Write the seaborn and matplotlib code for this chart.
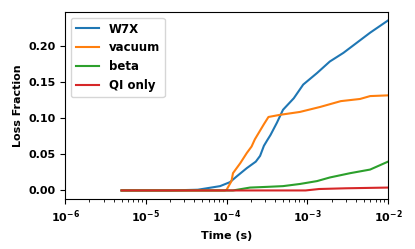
import numpy as np
import pandas as pd
import matplotlib
matplotlib.use("Agg")
import matplotlib.pyplot as plt
import seaborn as sns

# Loss fraction vs time
w7x_t = [5e-6, 2e-5, 4.4e-5, 8.3e-5, 1.1e-4, 1.35e-4, 1.78e-4, 2.3e-4, 2.6e-4, 2.9e-4,
         3.2e-4, 3.5e-4, 4.2e-4, 5.0e-4, 6.8e-4, 8.9e-4, 1.32e-3, 1.9e-3, 2.8e-3, 4.1e-3,
         6.0e-3, 1e-2]
w7x_v = [0.0, 0.0, 0.001, 0.006, 0.0115, 0.02, 0.031, 0.040, 0.048, 0.062, 0.070,
         0.077, 0.094, 0.112, 0.128, 0.147, 0.163, 0.179, 0.191, 0.205, 0.219, 0.236]

vac_t = [5e-6, 9.5e-5, 1.0e-4, 1.15e-4, 1.2e-4, 1.48e-4, 1.78e-4, 2.04e-4, 2.24e-4, 2.9e-4,
         3.3e-4, 4.6e-4, 8.1e-4, 1.45e-3, 2.6e-3, 4.5e-3, 6.0e-3, 1e-2]
vac_v = [0.0, 0.0, 0.001, 0.013, 0.024, 0.038, 0.052, 0.061, 0.071, 0.092, 0.102,
         0.105, 0.109, 0.116, 0.124, 0.127, 0.131, 0.132]

beta_t = [5e-6, 1.2e-4, 1.95e-4, 3.2e-4, 5.0e-4, 8.1e-4, 1.32e-3, 1.9e-3, 3.4e-3, 6.0e-3, 1e-2]
beta_v = [0.0, 0.0, 0.004, 0.005, 0.006, 0.009, 0.013, 0.018, 0.024, 0.029, 0.040]

qi_t = [5e-6, 9.5e-4, 1.4e-3, 3e-3, 1e-2]
qi_v = [0.0, 0.0, 0.002, 0.003, 0.004]

series = ["W7X", "vacuum", "beta", "QI only"]

df = pd.concat([
    pd.DataFrame({"Time": w7x_t, "Loss": w7x_v, "case": "W7X"}),
    pd.DataFrame({"Time": vac_t, "Loss": vac_v, "case": "vacuum"}),
    pd.DataFrame({"Time": beta_t, "Loss": beta_v, "case": "beta"}),
    pd.DataFrame({"Time": qi_t, "Loss": qi_v, "case": "QI only"}),
])

plt.rcParams["font.weight"] = "bold"
plt.rcParams["axes.labelweight"] = "bold"
plt.rcParams["font.size"] = 8

fig, ax = plt.subplots(figsize=(4.15, 2.49), dpi=100)
fig.subplots_adjust(left=0.157, right=0.935, top=0.952, bottom=0.201)

sns.lineplot(data=df, x="Time", y="Loss", hue="case", hue_order=series,
             palette=sns.color_palette("tab10", 4), ax=ax, linewidth=1.5)

ax.set_xscale("log")
ax.set_xlim(1e-6, 1e-2)
ax.set_xlabel("Time (s)")
ax.set_ylabel("Loss Fraction")
ax.set_yticks([0.0, 0.05, 0.10, 0.15, 0.20])
ax.legend(title=None, loc="upper left", fontsize=8.5)

fig.savefig("out.png", dpi=100)
